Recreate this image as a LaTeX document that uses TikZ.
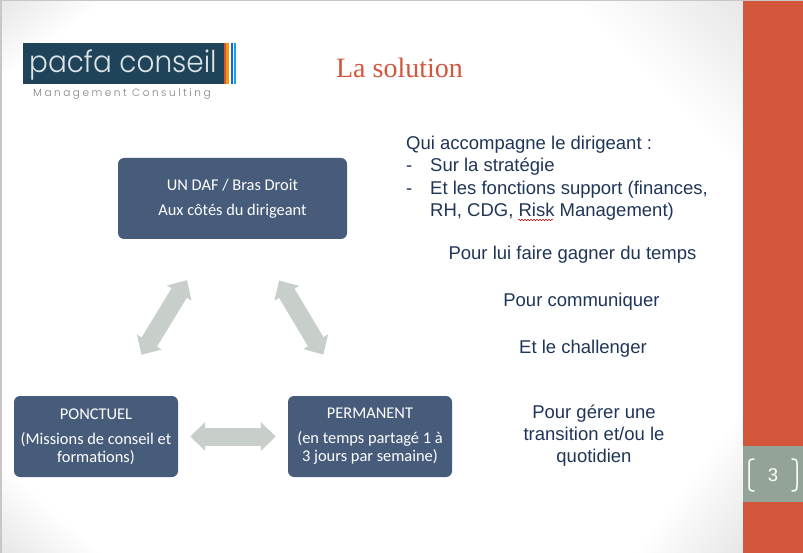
\documentclass[tikz,border=0pt]{standalone}
\usepackage{fontspec}
\setmainfont{Liberation Sans}
\newfontfamily\boxfont{Carlito}
\newfontfamily\titlefont{Liberation Serif}
\newfontfamily\logofont{Poppins Light}
\newfontfamily\spacedfont[LetterSpace=24]{Poppins Light}
\usetikzlibrary{arrows.meta,calc,positioning,decorations.pathmorphing}
\definecolor{boxblue}{HTML}{475C7A}
\definecolor{flowgray}{HTML}{C8CFCB}
\definecolor{bandred}{HTML}{D1563B}
\definecolor{pagegray}{HTML}{94A397}
\definecolor{logoblue}{HTML}{1F4459}
\definecolor{textblue}{HTML}{1F3557}
\tikzstyle{format}=[rectangle,rounded corners=6pt,fill=boxblue,text=white,align=center,font=\boxfont\fontsize{16.4}{18}\selectfont,minimum height=81pt,inner sep=0pt]
\tikzstyle{flow}=[draw=flowgray,line width=18pt,{Triangle[length=15pt,width=28pt]}-{Triangle[length=15pt,width=28pt]}]
\tikzstyle{line}=[anchor=base west,text=textblue,font=\fontsize{18.5}{21}\selectfont,inner sep=0pt]
\tikzstyle{center}=[anchor=base,text=textblue,align=center,font=\fontsize{18.5}{22}\selectfont,inner sep=0pt]
\tikzstyle{fade}=[black,opacity=0.0045]

\begin{document}
\begin{tikzpicture}[x=1pt,y=-1pt]
  \useasboundingbox (0,0) rectangle (803,553);
  % page
  \foreach \i in {1,...,24}{
    \fill[fade] (0,0)--(\i*4.4,0)--(0,\i*3.4)--cycle;
    \fill[fade] (0,553)--(\i*4.2,553)--(0,553-\i*3.8)--cycle;
    \fill[fade] (743,0)--(743-\i*7,0)--(743,\i*7)--cycle;
    \fill[fade] (743,553)--(743-\i*4.5,553)--(743,553-\i*6)--cycle;
  }
  \fill[black!22] (0,0) rectangle (803,1.5);
  \fill[black!22] (0,0) rectangle (1.5,553);
  % right band
  \fill[bandred] (743,1.5) rectangle (803,553);
  \fill[pagegray] (743,446) rectangle (803,502);
  \node[text=white,font=\fontsize{18.5}{18}\selectfont,inner sep=0pt] (page) at (773,475){3};
  \draw[white,line width=1.5pt,line cap=round] (754,459) .. controls (749,459) and (749,461) .. (749,465) -- (749,485) .. controls (749,489) and (749,491) .. (754,491);
  \draw[white,line width=1.5pt,line cap=round] (792,459) .. controls (797,459) and (797,461) .. (797,465) -- (797,485) .. controls (797,489) and (797,491) .. (792,491);
  % logo
  \fill[logoblue] (23,43) rectangle (224,84);
  \fill[bandred] (224,43) rectangle (226,84);
  \fill[orange!80!yellow] (226,43) rectangle (229,84);
  \fill[blue!60!cyan] (231,43) rectangle (233,84);
  \fill[cyan!70!teal] (234,43) rectangle (236,84);
  \node[text=white!85!logoblue,anchor=base west,inner sep=0pt,xscale=0.93,font=\logofont\fontsize{30}{30}\selectfont] (logo) at (29,73){pacfa conseil};
  \node[text=black!50,anchor=base west,inner sep=0pt,font=\spacedfont\fontsize{10.5}{11}\selectfont] (consult) at (33,97){Management Consulting};
  \node[anchor=base,text=bandred,inner sep=0pt,font=\titlefont\fontsize{28}{28}\selectfont] (title) at (399.5,78){La solution};
  % boxes
  \node[format,minimum width=229pt] (daf) at (232.5,198.5){UN DAF / Bras Droit\\[7pt]Aux côtés du dirigeant};
  \node[format,minimum width=164pt] (ponctuel) at (96,436.5){PONCTUEL\\[7pt](Missions de conseil et\\formations)};
  \node[format,minimum width=164pt] (permanent) at (370,436.5){PERMANENT\\[7pt](en temps partagé 1 à\\3 jours par semaine)};
  % arrows
  \draw[flow,shorten <=12pt,shorten >=12pt] (ponctuel.east)--(permanent.west);
  \draw[flow,shorten <=48pt,shorten >=48pt] ($(daf.south)+(-20.5,0)$)--($(ponctuel.north)+(20.5,0)$);
  \draw[flow,shorten <=48pt,shorten >=48pt] ($(daf.south)+(22,0)$)--($(permanent.north)+(-22,0)$);
  % text on the right
  \node[line] (qui) at (406,150){Qui accompagne le dirigeant :};
  \node[line] (dash1) at (406,172){-};
  \node[line] (sur) at (430,172){Sur la stratégie};
  \node[line] (dash2) at (406,195){-};
  \node[line] (et) at (430,195){Et les fonctions support (finances,};
  \node[line] (rh) at (430,217){RH, CDG, Risk Management)};
  \draw[red!80!black,line width=0.5pt,decorate,decoration={snake,amplitude=0.7pt,segment length=3pt}] (518,220)--(553,220);
  \node[center] (gagner) at (572.5,260){Pour lui faire gagner du temps};
  \node[center] (comm) at (581.5,306){Pour communiquer};
  \node[center] (chall) at (583,353){Et le challenger};
  \node[center,anchor=center] (gerer) at (594,435.5){Pour gérer une\\transition et/ou le\\quotidien};
\end{tikzpicture}
\end{document}
